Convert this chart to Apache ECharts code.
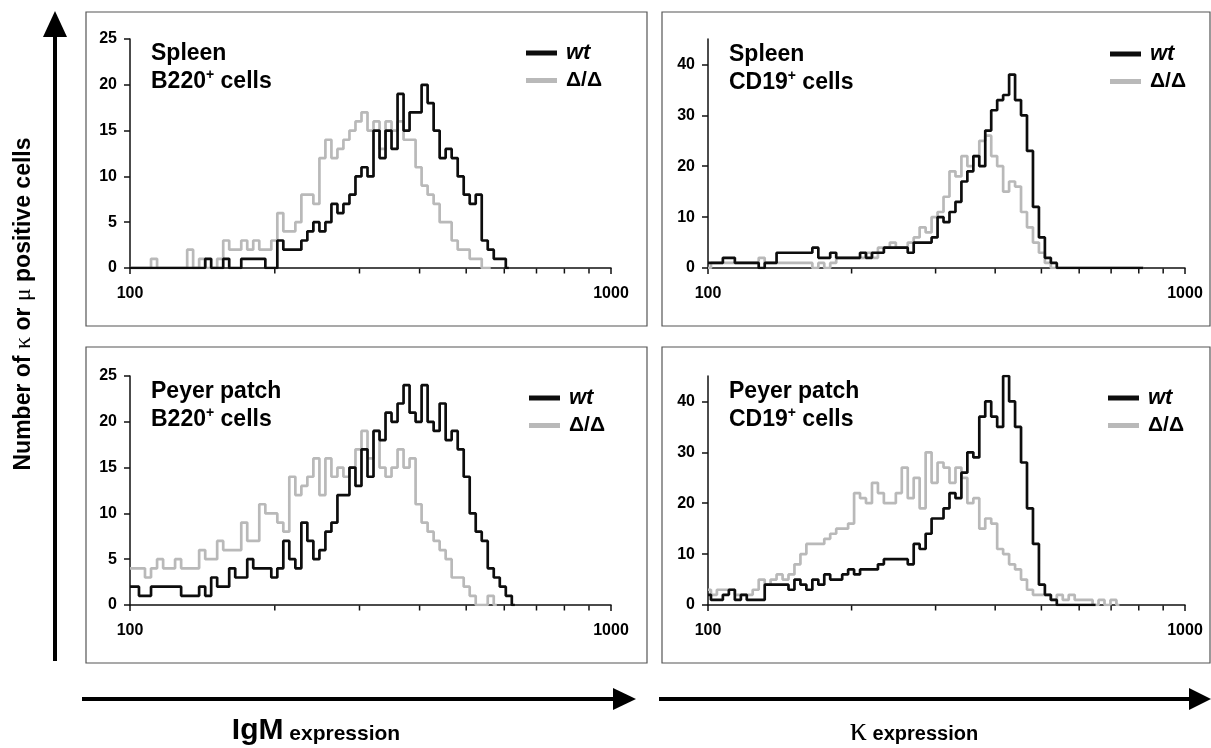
<!DOCTYPE html>
<html>
<head>
<meta charset="utf-8">
<script src="https://cdn.jsdelivr.net/npm/echarts@6/dist/echarts.min.js"></script>
<style>html,body{margin:0;background:#fff}#main{width:1211px;height:748px}</style>
</head>
<body>
<div id="main"></div>
<script>
// channel positions (log scale, 100 .. 1000)
var channels = [100, 102.9, 105.9, 109.0, 112.2, 115.5, 118.9, 122.3, 125.9, 129.6,
    133.4, 137.2, 141.3, 145.4, 149.6, 154.0, 158.5, 163.1, 167.9, 172.8,
    177.8, 183.0, 188.4, 193.9, 199.5, 205.4, 211.3, 217.5, 223.9, 230.4,
    237.1, 244.1, 251.2, 258.5, 266.1, 273.8, 281.8, 290.1, 298.5, 307.3,
    316.2, 325.5, 335.0, 344.7, 354.8, 365.2, 375.8, 386.8, 398.1, 409.7,
    421.7, 434.0, 446.7, 459.7, 473.2, 487.0, 501.2, 515.8, 530.9, 546.4,
    562.3, 578.8, 595.7, 613.1, 631.0, 649.4, 668.3, 687.9, 707.9, 728.6,
    749.9, 771.8, 794.3, 817.5, 841.4, 866.0, 891.3, 917.3, 944.1, 971.6, 1000];

// Spleen, B220+ cells (IgM)
var spleenB220Wt = [0,0,0,0,0,0,0,0,0,0, 0,0,0,1,0,0,1,0,0,1, 1,1,1,0,0,3,2,2,2,3,
    4,5,4,5,7,6,7,8,10,11, 10,15,12,15,13,19,15,17,17,20, 18,15,12,13,12,10,8,7,8,3, 2,1,1,0];
var spleenB220Del = [0,0,0,0,1,0,0,0,0,0, 2,0,1,0,0,1,3,2,2,3, 2,3,2,2,3,6,4,4,5,8,
    8,7,12,14,12,13,14,15,16,17, 15,16,13,16,15,16,14,14,11,9, 8,7,5,5,3,2,2,1,1,0, 0];

// Spleen, CD19+ cells (kappa)
var spleenCD19Wt = [1,1,1,2,2,1,1,1,1,0, 1,1,3,3,3,3,3,3,4,2, 2,3,2,2,2,2,3,2,3,3,
    4,4,4,4,3,5,5,5,6,10, 9,11,13,17,19,22,20,27,31,33, 34,38,33,30,23,12,6,2,1,0,
    0,0,0,0,0,0,0,0,0,0, 0,0,0,0];
var spleenCD19Del = [0,1,1,1,1,1,1,1,1,2, 1,1,1,1,1,1,1,1,0,1, 0,1,2,2,2,2,2,3,2,4,
    4,5,4,4,5,6,8,7,10,11, 14,19,18,22,20,22,25,26,22,20, 15,17,16,11,8,5,3,1,0,0,
    0,0,0,0,0,0,0,0,0,0, 0,0,0,0];

// Peyer patch, B220+ cells (IgM)
var peyerB220Wt = [2,2,1,1,2,2,2,2,2,1, 1,1,2,1,3,2,2,4,3,3, 5,4,4,4,3,4,7,5,4,9,
    7,5,6,8,9,12,12,15,13,17, 14,19,18,21,20,22,24,21,20,24, 20,19,22,18,19,17,14,10,8,7,
    4,3,2,1,0];
var peyerB220Del = [4,4,4,3,4,5,4,4,5,4, 4,4,6,5,5,7,6,6,6,9, 7,7,11,10,10,9,8,14,12,13,
    14,16,12,16,14,15,14,15,17,19, 16,19,15,14,15,17,15,16,11,9, 8,7,6,5,3,3,2,1,0,0, 1,0];

// Peyer patch, CD19+ cells (kappa)
var peyerCD19Wt = [2,1,1,2,3,1,2,1,1,1, 4,4,4,4,3,5,4,3,5,4, 6,5,5,6,7,6,7,7,7,8,
    9,9,9,9,8,12,11,14,17,17, 19,22,21,26,30,29,37,40,37,35, 45,40,35,28,19,12,4,2,1,0,
    0,0,0,0,0,0];
var peyerCD19Del = [3,2,3,3,3,2,2,2,3,5, 4,5,6,5,6,8,10,12,12,12, 13,14,15,15,16,22,21,20,24,22,
    20,20,22,27,21,25,19,30,24,28, 27,24,27,25,20,21,15,17,16,11, 10,8,7,5,3,2,2,2,1,2,
    1,2,1,1,1,0,1,0,1,0];

var minorTicks = [200, 300, 400, 500, 600, 700, 800, 900];
var countTicks25 = [0, 5, 10, 15, 20, 25];
var countTicks45 = [0, 10, 20, 30, 40];
var seriesNames = ['wt', '\u0394/\u0394'];

var FONT = '"Liberation Sans", Arial, sans-serif';
var BLACK = '#0d0d0d', GREY = '#b9b9b9';

var panels = [
    {grid: {left: 130, right: 600, top: 39, bottom: 480}, yMax: 25, ticks: countTicks25,
     wt: spleenB220Wt, del: spleenB220Del, title: ['Spleen', 'B220'], titlePos: [151, 40], legendPos: [526, 42]},
    {grid: {left: 708, right: 26, top: 39, bottom: 480}, yMax: 45, ticks: countTicks45,
     wt: spleenCD19Wt, del: spleenCD19Del, title: ['Spleen', 'CD19'], titlePos: [729, 41], legendPos: [1110, 43]},
    {grid: {left: 130, right: 600, top: 376, bottom: 143}, yMax: 25, ticks: countTicks25,
     wt: peyerB220Wt, del: peyerB220Del, title: ['Peyer patch', 'B220'], titlePos: [151, 378], legendPos: [529, 387]},
    {grid: {left: 708, right: 26, top: 376, bottom: 143}, yMax: 45, ticks: countTicks45,
     wt: peyerCD19Wt, del: peyerCD19Del, title: ['Peyer patch', 'CD19'], titlePos: [729, 378], legendPos: [1108, 387]}
];

function pairs(ys) {
    return ys.map(function (y, i) { return [channels[i], y]; });
}

var titleRich = {
    n: {fontFamily: FONT, fontWeight: 'bold', fontSize: 23, lineHeight: 28, color: '#000'},
    s: {fontFamily: FONT, fontWeight: 'bold', fontSize: 14, lineHeight: 16, color: '#000', verticalAlign: 'top'}
};
var legendRich = {
    i: {fontFamily: FONT, fontWeight: 'bold', fontStyle: 'italic', fontSize: 22, lineHeight: 28, color: '#000', padding: [0, 0, 0, 4]},
    n: {fontFamily: FONT, fontWeight: 'bold', fontSize: 21, lineHeight: 28, color: '#000', padding: [0, 0, 0, 4]}
};
var labelStyle = {fontFamily: FONT, fontWeight: 'bold', fontSize: 16, color: '#000'};
var axisLineStyle = {color: '#111', width: 1.5};

var grids = [], xAxes = [], yAxes = [], series = [], titles = [], legends = [];
panels.forEach(function (p, i) {
    grids.push(Object.assign({containLabel: false, outerBoundsMode: 'none'}, p.grid));
    xAxes.push({
        type: 'log', logBase: 10, min: 100, max: 1000, gridIndex: i,
        axisLine: {lineStyle: axisLineStyle},
        axisTick: {show: true, length: 6, lineStyle: axisLineStyle},
        axisLabel: Object.assign({margin: 18, formatter: function (v) { return String(v); }}, labelStyle),
        splitLine: {show: false}
    });
    yAxes.push({
        type: 'value', gridIndex: i, min: 0, max: p.yMax, interval: p.yMax === 25 ? 5 : 10,
        axisLine: {show: true, lineStyle: axisLineStyle},
        axisTick: {show: true, length: 6, lineStyle: axisLineStyle, customValues: p.ticks},
        axisLabel: Object.assign({margin: 13, customValues: p.ticks}, labelStyle),
        splitLine: {show: false}
    });
    series.push({
        name: seriesNames[1], type: 'line', step: 'middle', xAxisIndex: i, yAxisIndex: i,
        showSymbol: false, symbol: 'none', data: pairs(p.del),
        itemStyle: {color: GREY}, lineStyle: {color: GREY, width: 2.7}
    });
    series.push({
        name: seriesNames[0], type: 'line', step: 'middle', xAxisIndex: i, yAxisIndex: i,
        showSymbol: false, symbol: 'none', data: pairs(p.wt),
        itemStyle: {color: BLACK}, lineStyle: {color: BLACK, width: 2.7},
        markPoint: {
            symbol: 'rect', symbolSize: [1.5, 5], symbolOffset: [0, 3], silent: true,
            label: {show: false}, itemStyle: {color: '#111'},
            data: minorTicks.map(function (v) { return {coord: [v, 0]}; })
        }
    });
    titles.push({
        left: p.titlePos[0], top: p.titlePos[1], padding: 0,
        text: '{n|' + p.title[0] + '}\n{n|' + p.title[1] + '}{s|+}{n| cells}',
        textStyle: {rich: titleRich}
    });
    legends.push({
        left: p.legendPos[0], top: p.legendPos[1], orient: 'vertical', padding: 0,
        itemWidth: 31, itemHeight: 5, itemGap: 6, icon: 'rect', selectedMode: false,
        data: seriesNames,
        formatter: function (name) { return name === 'wt' ? '{i|wt}' : '{n|' + name + '}'; },
        textStyle: {rich: legendRich}
    });
});

function box(x, y, w, h) {
    return {type: 'rect', shape: {x: x, y: y, width: w, height: h}, silent: true,
        style: {fill: null, stroke: '#555', lineWidth: 1.2}};
}
function bar(x1, y1, x2, y2) {
    return {type: 'line', shape: {x1: x1, y1: y1, x2: x2, y2: y2}, silent: true,
        style: {stroke: '#000', lineWidth: 4}};
}
function head(pts) {
    return {type: 'polygon', shape: {points: pts}, silent: true, style: {fill: '#000'}};
}
var bigFont = {fontFamily: FONT, fontWeight: 'bold', fill: '#000'};

var chart = echarts.init(document.getElementById('main'));
chart.setOption({
    animation: false,
    backgroundColor: '#fff',
    title: titles,
    legend: legends,
    grid: grids,
    xAxis: xAxes,
    yAxis: yAxes,
    series: series,
    graphic: [
        box(86, 12, 561, 314), box(662, 12, 548, 314),
        box(86, 347, 561, 316), box(662, 347, 548, 316),
        bar(55, 661, 55, 30), head([[55, 11], [43, 37], [67, 37]]),
        bar(82, 699, 616, 699), head([[636, 699], [613, 688], [613, 710]]),
        bar(659, 699, 1192, 699), head([[1211, 699], [1189, 688], [1189, 710]]),
        {type: 'text', x: 24, y: 304, rotation: Math.PI / 2, silent: true,
         style: {text: '{t|Number of }{g|\u03ba}{t| or }{g|\u03bc}{t| positive cells}',
                 align: 'center', verticalAlign: 'middle',
                 rich: {t: Object.assign({fontSize: 23}, bigFont),
                        g: {fontFamily: '"Liberation Serif", serif', fontSize: 24, fill: '#000'}}}},
        {type: 'text', x: 316, y: 731, silent: true,
         style: {text: '{a|IgM}{b| expression}', align: 'center', verticalAlign: 'middle',
                 rich: {a: Object.assign({fontSize: 30}, bigFont), b: Object.assign({fontSize: 21, padding: [6, 0, 0, 0]}, bigFont)}}},
        {type: 'text', x: 914, y: 731, silent: true,
         style: {text: '{a|\u03ba}{b| expression}', align: 'center', verticalAlign: 'middle',
                 rich: {a: {fontFamily: '"Liberation Serif", serif', fontSize: 34, fill: '#000'},
                        b: Object.assign({fontSize: 20, padding: [6, 0, 0, 0]}, bigFont)}}}
    ]
});
</script>
</body>
</html>
